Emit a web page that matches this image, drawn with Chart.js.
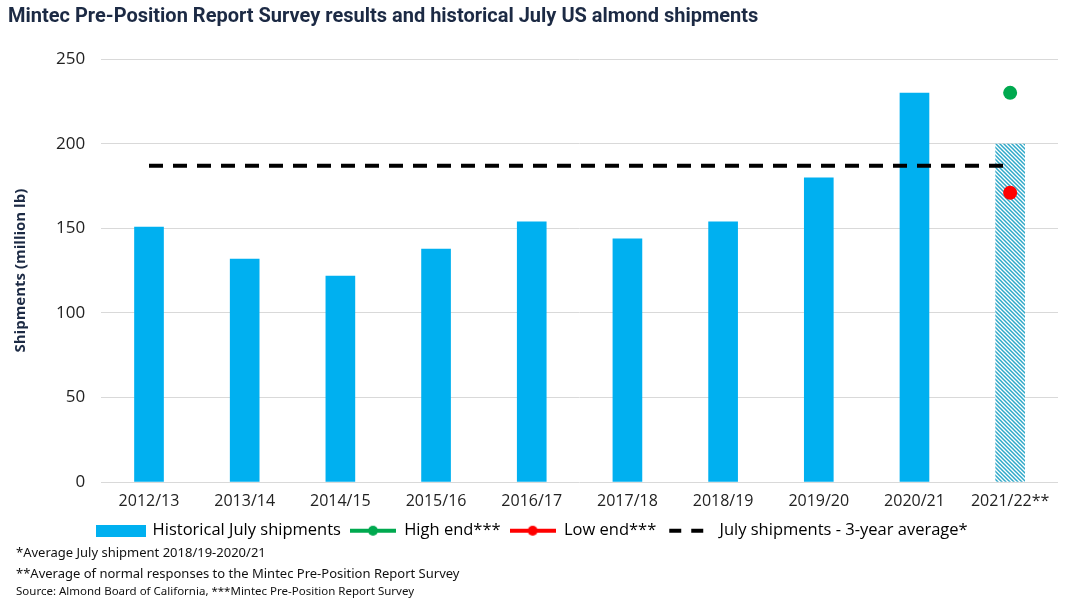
<!DOCTYPE html>
<html>
<head>
<meta charset="utf-8">
<script src="https://cdn.jsdelivr.net/npm/chart.js@4.4.0/dist/chart.umd.min.js"></script>
<style>
  html, body { margin: 0; padding: 0; background: #fff; }
  #wrap { position: relative; width: 1068px; height: 603px; }
  .note { position: absolute; left: 16px; font-family: 'Noto Sans', sans-serif; color: #111; white-space: nowrap; }
</style>
</head>
<body>
<div id="wrap">
  <canvas id="myChart" width="1068" height="603"></canvas>
  <div class="note" style="top:543px;font-size:13px;">*Average July shipment 2018/19-2020/21</div>
  <div class="note" style="top:564px;font-size:13px;">**Average of normal responses to the Mintec Pre-Position Report Survey</div>
  <div class="note" style="top:583px;font-size:11.5px;">Source: Almond Board of California, ***Mintec Pre-Position Report Survey</div>
</div>
<script>
// Données
var saisons = ['2012/13', '2013/14', '2014/15', '2015/16', '2016/17', '2017/18', '2018/19', '2019/20', '2020/21', '2021/22**'];
var expeditions = [151, 132, 122, 138, 154, 144, 154, 180, 230, 200]; // la dernière = moyenne du sondage
var hautFourchette = [null, null, null, null, null, null, null, null, null, 230];
var basFourchette = [null, null, null, null, null, null, null, null, null, 171];
var moyenne3ans = [187, 187, 187, 187, 187, 187, 187, 187, 187, 187];
var yTicks = [0, 50, 100, 150, 200, 250];

var bleu = '#00B0F0';
var vert = '#00A94F';
var rouge = '#FF0000';

// Motif hachuré pour la barre 2021/22
function hachures() {
    var c = document.createElement('canvas');
    c.width = 4; c.height = 4;
    var g = c.getContext('2d');
    g.fillStyle = '#ffffff';
    g.fillRect(0, 0, 4, 4);
    g.strokeStyle = '#2fa8c8';
    g.lineWidth = 1.5;
    g.beginPath();
    g.moveTo(0, 0); g.lineTo(4, 4);
    g.moveTo(-2, 2); g.lineTo(2, 6);
    g.moveTo(2, -2); g.lineTo(6, 2);
    g.stroke();
    return document.getElementById('myChart').getContext('2d').createPattern(c, 'repeat');
}

// Petites images pour la légende
function iconeBarre() {
    var c = document.createElement('canvas');
    c.width = 50; c.height = 12;
    var g = c.getContext('2d');
    g.fillStyle = bleu;
    g.fillRect(0, 0, 50, 12);
    return c;
}
function iconePoint(couleur) {
    var c = document.createElement('canvas');
    c.width = 46; c.height = 12;
    var g = c.getContext('2d');
    g.strokeStyle = couleur; g.lineWidth = 4;
    g.beginPath(); g.moveTo(0, 6); g.lineTo(46, 6); g.stroke();
    g.fillStyle = couleur;
    g.beginPath(); g.arc(23, 6, 5, 0, Math.PI * 2); g.fill();
    return c;
}
function iconeTirets() {
    var c = document.createElement('canvas');
    c.width = 46; c.height = 12;
    var g = c.getContext('2d');
    g.fillStyle = '#000';
    g.fillRect(4, 4, 12, 4);
    g.fillRect(26, 4, 12, 4);
    return c;
}
var icones = [iconeBarre(), iconePoint(vert), iconePoint(rouge), iconeTirets()];

var couleursBarres = expeditions.map(function (v, i) { return i === expeditions.length - 1 ? hachures() : bleu; });

var ctx = document.getElementById('myChart').getContext('2d');
var myChart = new Chart(ctx, {
    type: 'bar',
    data: {
        labels: saisons,
        datasets: [{
            type: 'line',
            label: 'July shipments - 3-year average*',
            data: moyenne3ans,
            borderColor: '#000',
            borderWidth: 4,
            borderDash: [14, 10],
            pointRadius: 0,
            order: 2
        }, {
            type: 'line',
            label: 'High end***',
            data: hautFourchette,
            borderColor: vert,
            backgroundColor: vert,
            pointRadius: 7,
            pointBorderWidth: 0,
            order: 0
        }, {
            type: 'line',
            label: 'Low end***',
            data: basFourchette,
            borderColor: rouge,
            backgroundColor: rouge,
            pointRadius: 7,
            pointBorderWidth: 0,
            order: 0
        }, {
            label: 'Historical July shipments',
            data: expeditions,
            backgroundColor: couleursBarres,
            barPercentage: 0.62,
            categoryPercentage: 0.5,
            order: 3
        }]
    },
    options: {
        responsive: false,
        animation: false,
        layout: { padding: { left: 8, right: 10, top: 0, bottom: 54 } },
        plugins: {
            title: {
                display: true,
                text: 'Mintec Pre-Position Report Survey results and historical July US almond shipments',
                align: 'start',
                color: '#1c2a44',
                font: { family: "Roboto, sans-serif", size: 20, weight: 'bold' },
                padding: { top: 5, bottom: 30 }
            },
            legend: {
                position: 'bottom',
                labels: {
                    usePointStyle: true,
                    pointStyleWidth: 46,
                    color: '#111',
                    padding: 9,
                    font: { family: "'Open Sans', sans-serif", size: 16.5 },
                    generateLabels: function (chart) {
                        var ordre = [3, 1, 2, 0];
                        return ordre.map(function (idx, k) {
                            return {
                                text: chart.data.datasets[idx].label,
                                pointStyle: icones[k],
                                fillStyle: 'transparent',
                                strokeStyle: 'transparent',
                                lineWidth: 0,
                                datasetIndex: idx
                            };
                        });
                    }
                }
            },
            tooltip: { enabled: false }
        },
        scales: {
            x: {
                grid: { display: false },
                border: { display: false },
                ticks: { color: '#222', font: { family: "'Open Sans', sans-serif", size: 16 }, maxRotation: 0, padding: 2 }
            },
            y: {
                min: 0,
                max: 250,
                afterBuildTicks: function (axis) { axis.ticks = yTicks.map(function (v) { return { value: v }; }); },
                grid: { color: '#d9d9d9', drawTicks: false },
                border: { display: false },
                ticks: { color: '#222', font: { family: "'Open Sans', sans-serif", size: 17 }, padding: 16 },
                title: {
                    display: true,
                    text: 'Shipments (million lb)',
                    color: '#1c2a44',
                    font: { family: "'Open Sans', sans-serif", size: 15, weight: 'bold' },
                    padding: { bottom: 10 }
                }
            }
        }
    }
});
</script>
</body>
</html>
